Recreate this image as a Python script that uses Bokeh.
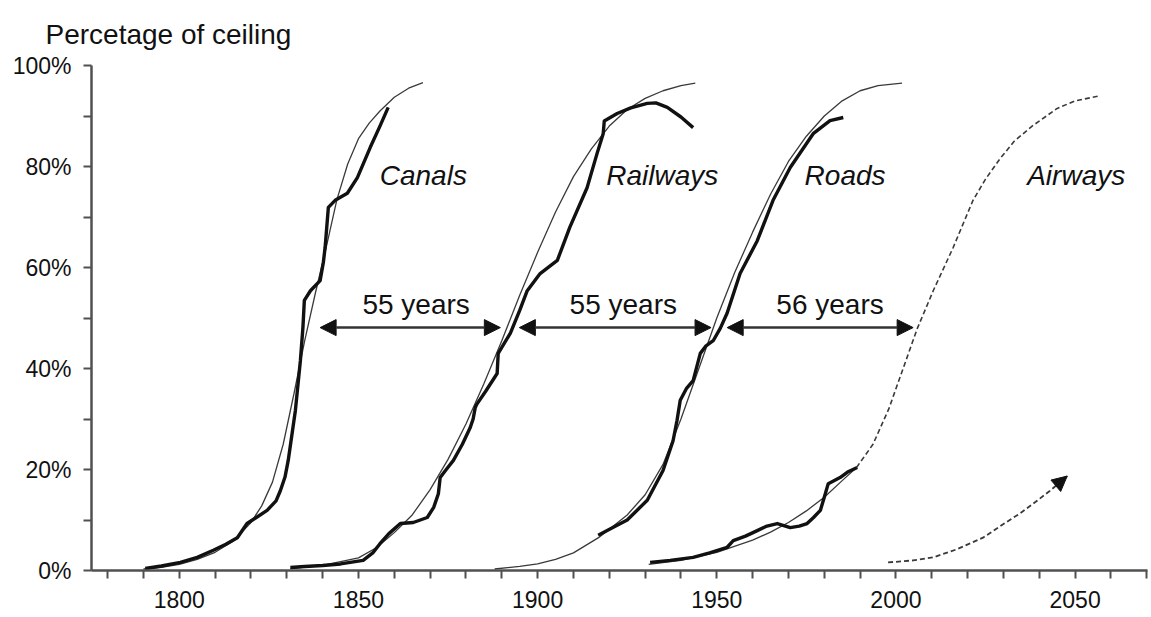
from bokeh.plotting import figure
from bokeh.models import Arrow, NormalHead, FixedTicker, ColumnDataSource, Range1d
from bokeh.core.properties import value
from bokeh.embed import file_html
from bokeh.resources import INLINE

FONT = "Liberation Sans"

# ---------------- data ----------------
canals_years = [1790.5, 1795, 1800.3, 1805, 1809.5, 1813, 1816.2, 1818.9, 1821.5, 1824.5, 1827, 1828.2,
                1829.5, 1830.4, 1832.4, 1833.8, 1834.5, 1834.9, 1836.6, 1839.3, 1840.2, 1840.7, 1841.6,
                1843.5, 1846.9, 1849.7, 1853.3, 1856, 1858.3]
canals_pct = [0.4, 0.9, 1.6, 2.6, 4, 5.2, 6.5, 9.3, 10.5, 11.9, 13.8, 15.8, 18.5, 21.8, 31.7, 41.6, 48.1,
              53.5, 55.4, 57.4, 61, 64, 71.9, 73.3, 74.7, 77.8, 83.8, 88, 91.7]
canals_fit_years = [1790, 1795, 1800, 1805, 1810, 1815, 1820, 1823, 1826, 1829, 1832, 1835, 1838, 1841,
                    1844, 1847, 1850, 1853, 1856, 1860, 1864, 1868]
canals_fit_pct = [0.3, 0.6, 1.2, 2.2, 3.6, 5.8, 9.5, 12.8, 17.5, 25, 35, 45.5, 55, 64, 73.5, 80.5, 85.5,
                  88.6, 91, 93.7, 95.5, 96.6]

railways_years = [1831, 1835, 1840, 1845, 1851.3, 1854, 1856, 1858.5, 1861.7, 1865.3, 1869.2, 1871, 1872.3,
                  1872.8, 1874.5, 1876.5, 1879, 1881.2, 1882, 1882.6, 1883.1, 1885.5, 1888.7, 1889, 1892.4,
                  1895, 1897.1, 1900.7, 1905.5, 1909, 1913.8, 1916.6, 1918.3, 1918.6, 1922.2, 1926, 1930.6,
                  1933, 1936.2, 1940, 1943.4]
railways_pct = [0.6, 0.8, 1.0, 1.3, 2, 3.5, 5.3, 7.3, 9.3, 9.5, 10.5, 12.5, 15.2, 18.4, 20, 21.8, 25, 28.3,
                30, 32.3, 33, 35.5, 39, 43, 47, 51.5, 55.4, 58.8, 61.4, 68, 75.8, 82.6, 86.5, 89, 90.5, 91.6,
                92.5, 92.6, 91.7, 89.8, 87.7]
railways_fit_years = [1831, 1840, 1850, 1855, 1860, 1865, 1870, 1875, 1880, 1885, 1890, 1895, 1900, 1905,
                      1910, 1915, 1920, 1925, 1930, 1935, 1940, 1944]
railways_fit_pct = [0.4, 1.0, 2.5, 4.5, 7.5, 11, 16, 22, 29, 37, 45.5, 54.5, 63, 71, 78, 83.5, 88, 91.3,
                    93.5, 95, 96, 96.5]

roads_years = [1916.9, 1921, 1925, 1930.6, 1935, 1937.8, 1938.9, 1939.8, 1941.5, 1943.4, 1945.4, 1947, 1949,
               1951, 1952.9, 1956.5, 1961.3, 1965.7, 1970.5, 1976.9, 1981.6, 1985.3]
roads_pct = [7, 8.5, 10, 13.9, 19.8, 25.7, 29.7, 33.7, 36, 37.6, 43, 44.5, 45.5, 48, 51, 58.8, 65.3, 73.3,
             79.8, 86.5, 89.1, 89.7]
roads_fit_years = [1888, 1895, 1900, 1905, 1910, 1917, 1925, 1930, 1935, 1940, 1945, 1950, 1955, 1960, 1965,
                   1970, 1975, 1980, 1985, 1990, 1995, 2001.7]
roads_fit_pct = [0.3, 0.8, 1.3, 2.2, 3.5, 6.5, 11, 15, 21, 30, 40, 50, 59, 67, 74.5, 81, 86, 90, 93, 95,
                 96, 96.5]

airways_years = [1931.4, 1937, 1943.4, 1948, 1952.9, 1954.6, 1958, 1961.3, 1964, 1966.9, 1970.5, 1973,
                 1975.2, 1977, 1978.9, 1980, 1981.1, 1984.4, 1986.5, 1989.2]
airways_pct = [1.6, 2.0, 2.6, 3.5, 4.6, 5.9, 6.8, 7.9, 8.8, 9.3, 8.5, 8.8, 9.3, 10.5, 11.9, 14.5, 17.2, 18.4,
               19.5, 20.4]
airways_fit_years = [1931, 1940, 1950, 1960, 1965, 1970, 1975, 1980, 1985, 1989]
airways_fit_pct = [1.2, 2.0, 3.6, 6.0, 7.6, 9.5, 11.8, 14.5, 17.8, 20.4]
airways_proj_years = [1989, 1993.6, 1998, 2002, 2006, 2010.4, 2016, 2021.5, 2025, 2029, 2033, 2038, 2045,
                      2050, 2057]
airways_proj_pct = [20.4, 25, 32, 40, 48, 55.4, 64, 73.3, 77.5, 81.5, 85, 88, 91.5, 93, 94]
airways_next_years = [1997.8, 2004.8, 2010.4, 2017, 2024.3, 2030, 2034.6, 2039, 2043, 2047.8]
airways_next_pct = [1.6, 2.0, 2.6, 4.2, 6.5, 9.2, 11.3, 13.6, 15.8, 18.7]

names = ["Canals", "Railways", "Roads", "Airways"]
name_x = [1868.1, 1934.8, 1985.8, 2050.3]
name_y = [78.2, 78.2, 78.2, 78.2]

gap_start = [1839.3, 1894.9, 1952.9]
gap_end = [1889.6, 1948.4, 2004.8]
gap_level = [48.1, 48.1, 48.1]
gap_text = ["55 years", "55 years", "56 years"]
gap_text_x = [1866.1, 1923.9, 1981.6]
gap_text_y = [52.6, 52.6, 52.6]

x_ticks = [1800, 1850, 1900, 1950, 2000, 2050]
x_tick_labels = ["1800", "1850", "1900", "1950", "2000", "2050"]
x_minor = [1780, 1790, 1810, 1820, 1830, 1840, 1860, 1870, 1880, 1890, 1910, 1920, 1930, 1940, 1960,
           1970, 1980, 1990, 2010, 2020, 2030, 2040, 2060, 2070]
y_ticks = [0, 20, 40, 60, 80, 100]
y_tick_labels = ["0%", "20%", "40%", "60%", "80%", "100%"]
y_minor = [10, 30, 50, 70, 90]

# ---------------- figure ----------------
p = figure(width=1151, height=617, output_backend="svg", toolbar_location=None,
           x_range=Range1d(1775.5, 2070.2), y_range=Range1d(0, 100),
           min_border_left=91, min_border_right=4, min_border_top=65, min_border_bottom=47,
           title="Percetage of ceiling")
p.outline_line_color = None
p.grid.visible = False
p.background_fill_color = "white"
p.border_fill_color = "white"

p.title.align = "left"
p.title.offset = -46
p.title.standoff = 31
p.title.text_font = FONT
p.title.text_font_size = "28px"
p.title.text_font_style = "normal"
p.title.text_color = "#111111"

AX = "#505050"
for ax in (p.xaxis[0], p.yaxis[0]):
    ax.axis_line_color = AX
    ax.axis_line_width = 2.5
    ax.major_tick_line_color = AX
    ax.major_tick_line_width = 2
    ax.minor_tick_line_color = AX
    ax.minor_tick_line_width = 2
    ax.major_tick_in = 0
    ax.major_tick_out = 8
    ax.minor_tick_in = 0
    ax.minor_tick_out = 8
    ax.major_label_text_font = FONT
    ax.major_label_text_font_size = "23px"
    ax.major_label_text_color = "#111111"

p.xaxis.ticker = FixedTicker(ticks=x_ticks, minor_ticks=x_minor)
p.xaxis.major_label_overrides = dict(zip(x_ticks, x_tick_labels))
p.xaxis.major_label_standoff = 12
p.yaxis.ticker = FixedTicker(ticks=y_ticks, minor_ticks=y_minor)
p.yaxis.major_label_overrides = dict(zip(y_ticks, y_tick_labels))
p.yaxis.major_label_standoff = 12

THIN = "#3a3a3a"
THICK = "#111111"

# fitted (thin) curves
for xs, ys in [(canals_fit_years, canals_fit_pct), (railways_fit_years, railways_fit_pct),
               (roads_fit_years, roads_fit_pct), (airways_fit_years, airways_fit_pct)]:
    p.line(xs, ys, line_color=THIN, line_width=1.3)

# observed (thick) curves
for xs, ys in [(canals_years, canals_pct), (railways_years, railways_pct),
               (roads_years, roads_pct), (airways_years, airways_pct)]:
    p.line(xs, ys, line_color=THICK, line_width=3.4, line_join="round")

# projections (dashed)
p.line(airways_proj_years, airways_proj_pct, line_color=THIN, line_width=1.6, line_dash="5 3")
p.line(airways_next_years, airways_next_pct, line_color=THIN, line_width=1.8, line_dash="5 3")
p.add_layout(Arrow(end=NormalHead(size=15, fill_color=THICK, line_color=THICK),
                   x_start=airways_next_years[-2], y_start=airways_next_pct[-2],
                   x_end=airways_next_years[-1], y_end=airways_next_pct[-1], line_alpha=0))

# interval arrows
arrow_src = ColumnDataSource(dict(x0=gap_start, x1=gap_end, y=gap_level))
p.add_layout(Arrow(start=NormalHead(size=16, fill_color=THICK, line_color=THICK),
                   end=NormalHead(size=16, fill_color=THICK, line_color=THICK),
                   x_start="x0", y_start="y", x_end="x1", y_end="y", source=arrow_src,
                   line_color="#333333", line_width=2.5))

p.text(x=gap_text_x, y=gap_text_y, text=gap_text, text_font=value(FONT), text_font_size="28px",
       text_align="center", text_baseline="middle", text_color="#111111")
p.text(x=name_x, y=name_y, text=names, text_font=value(FONT), text_font_size="28px",
       text_font_style="italic", text_align="center", text_baseline="middle", text_color="#111111")

open("out.html", "w").write(file_html(p, INLINE))
